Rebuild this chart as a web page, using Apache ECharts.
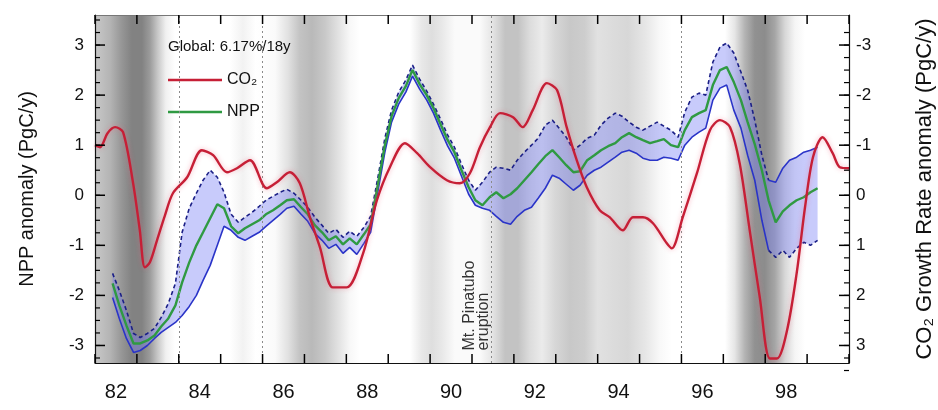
<!DOCTYPE html>
<html>
<head>
<meta charset="utf-8">
<script src="https://cdn.jsdelivr.net/npm/echarts@6/dist/echarts.min.js"></script>
<style>
  html, body { margin: 0; padding: 0; background: #fff; }
  #chart { width: 938px; height: 410px; }
</style>
</head>
<body>
<div id="chart"></div>
<script>
// ---- Data -------------------------------------------------------------

// Years that carry an axis label (label is drawn at mid-year)
const labelYears = [1982, 1984, 1986, 1988, 1990, 1992, 1994, 1996, 1998];

// CO2 growth-rate anomaly (PgC/y), plotted on the inverted right axis
const co2Years = [
  1982.00, 1982.12, 1982.30, 1982.48, 1982.67, 1982.91, 1983.07, 1983.19, 1983.31, 1983.48,
  1983.67, 1983.86, 1984.20, 1984.55, 1984.82, 1985.15, 1985.39, 1985.70, 1986.10, 1986.34,
  1986.65, 1986.89, 1987.13, 1987.37, 1987.68, 1988.01, 1988.40, 1988.73, 1989.04, 1989.40,
  1989.69, 1990.00, 1990.40, 1990.71, 1990.95, 1991.19, 1991.43, 1991.67, 1991.98, 1992.21,
  1992.45, 1992.79, 1993.03, 1993.26, 1993.50, 1993.74, 1994.05, 1994.29, 1994.60, 1994.84,
  1995.08, 1995.32, 1995.65, 1995.77, 1996.03, 1996.37, 1996.68, 1996.92, 1997.16, 1997.39,
  1997.63, 1997.87, 1998.11, 1998.28, 1998.52, 1998.75, 1998.95, 1999.14, 1999.37, 1999.61,
  1999.78, 2000.00
];
const co2Anomaly = [
  -1.00, -0.96, -1.24, -1.36, -1.26, -0.24, 0.70, 1.44, 1.34, 0.90,
  0.40, -0.04, -0.36, -0.90, -0.80, -0.46, -0.54, -0.70, -0.14, -0.26,
  -0.46, -0.24, 0.44, 1.04, 1.84, 1.84, 1.16, 0.10, -0.56, -1.04,
  -0.84, -0.56, -0.30, -0.24, -0.44, -0.96, -1.36, -1.64, -1.56, -1.36,
  -1.70, -2.24, -2.10, -1.36, -0.70, -0.16, 0.30, 0.44, 0.70, 0.44,
  0.44, 0.56, 0.96, 1.06, 0.44, -0.44, -1.30, -1.50, -1.36, -0.64,
  0.70, 2.04, 3.26, 3.26, 2.70, 1.56, 0.24, -0.76, -1.16, -0.84,
  -0.56, -0.54
];

// NPP anomaly (PgC/y), bimonthly
const nppYears = [
  1982.42, 1982.58, 1982.75, 1982.92,
  1983.08, 1983.25, 1983.42, 1983.58, 1983.75, 1983.92,
  1984.08, 1984.25, 1984.42, 1984.58, 1984.75, 1984.92,
  1985.08, 1985.25, 1985.42, 1985.58, 1985.75, 1985.92,
  1986.08, 1986.25, 1986.42, 1986.58, 1986.75, 1986.92,
  1987.08, 1987.25, 1987.42, 1987.58, 1987.75, 1987.92,
  1988.08, 1988.25, 1988.42, 1988.58, 1988.75, 1988.92,
  1989.08, 1989.25, 1989.42, 1989.58, 1989.75, 1989.92,
  1990.08, 1990.25, 1990.42, 1990.58, 1990.75, 1990.92,
  1991.08, 1991.25, 1991.42, 1991.58, 1991.75, 1991.92,
  1992.08, 1992.25, 1992.42, 1992.58, 1992.75, 1992.92,
  1993.08, 1993.25, 1993.42, 1993.58, 1993.75, 1993.92,
  1994.08, 1994.25, 1994.42, 1994.58, 1994.75, 1994.92,
  1995.08, 1995.25, 1995.42, 1995.58, 1995.75, 1995.92,
  1996.08, 1996.25, 1996.42, 1996.58, 1996.75, 1996.92,
  1997.08, 1997.25, 1997.42, 1997.58, 1997.75, 1997.92,
  1998.08, 1998.25, 1998.42, 1998.58, 1998.75, 1998.92,
  1999.08, 1999.25
];
const nppMean = [
  -1.76, -2.20, -2.60, -2.96,
  -2.96, -2.90, -2.80, -2.62, -2.46, -2.20,
  -1.74, -1.34, -1.00, -0.74, -0.46, -0.18,
  -0.26, -0.62, -0.76, -0.66, -0.58, -0.50,
  -0.38, -0.30, -0.20, -0.10, -0.08, -0.24,
  -0.38, -0.60, -0.74, -0.90, -0.82, -0.98,
  -0.86, -0.98, -0.78, -0.58, 0.20, 1.00,
  1.58, 1.94, 2.18, 2.50, 2.22, 2.00,
  1.74, 1.42, 1.10, 0.86, 0.50, 0.16,
  -0.10, -0.20, -0.04, 0.06, -0.06, 0.02,
  0.14, 0.30, 0.46, 0.62, 0.78, 0.90,
  0.76, 0.60, 0.46, 0.48, 0.70, 0.80,
  0.90, 0.98, 1.04, 1.16, 1.24, 1.16,
  1.10, 1.04, 1.08, 1.12, 1.00, 0.96,
  1.30, 1.56, 1.64, 1.70, 2.20, 2.50,
  2.56, 2.26, 1.90, 1.46, 1.02, 0.50,
  -0.10, -0.54, -0.32, -0.20, -0.10, -0.04,
  0.06, 0.14
];
const nppUpper = [
  -1.56, -1.90, -2.30, -2.76,
  -2.84, -2.76, -2.66, -2.44, -2.16, -1.76,
  -0.74, -0.26, 0.04, 0.30, 0.50, 0.36,
  0.06, -0.38, -0.54, -0.44, -0.34, -0.22,
  -0.10, -0.02, 0.06, 0.12, 0.04, -0.10,
  -0.24, -0.44, -0.60, -0.76, -0.68, -0.84,
  -0.72, -0.82, -0.64, -0.42, 0.34, 1.14,
  1.70, 2.06, 2.30, 2.60, 2.32, 2.08,
  1.82, 1.52, 1.20, 0.96, 0.62, 0.30,
  0.10, 0.26, 0.46, 0.56, 0.54, 0.50,
  0.70, 0.86, 1.00, 1.14, 1.40, 1.50,
  1.34, 1.16, 0.90, 1.00, 1.14, 1.20,
  1.40, 1.54, 1.64, 1.58, 1.46, 1.36,
  1.30, 1.38, 1.46, 1.38, 1.30, 1.16,
  1.66, 1.96, 2.04, 2.00, 2.66, 2.96,
  3.04, 2.84, 2.46, 2.10, 1.50, 0.80,
  0.30, 0.26, 0.54, 0.70, 0.76, 0.86,
  0.90, 0.96
];
const nppLower = [
  -2.04, -2.46, -2.86, -3.14,
  -3.10, -3.00, -2.86, -2.74, -2.64, -2.54,
  -2.40, -2.22, -2.00, -1.70, -1.40, -1.00,
  -0.62, -0.70, -0.84, -0.90, -0.82, -0.74,
  -0.62, -0.50, -0.38, -0.26, -0.22, -0.38,
  -0.52, -0.76, -0.90, -1.06, -0.98, -1.16,
  -1.04, -1.18, -0.96, -0.74, 0.06, 0.86,
  1.46, 1.82, 2.06, 2.38, 2.12, 1.90,
  1.64, 1.30, 0.98, 0.74, 0.38, 0.02,
  -0.20, -0.26, -0.30, -0.42, -0.54, -0.58,
  -0.42, -0.30, -0.24, -0.06, 0.14, 0.40,
  0.34, 0.22, 0.10, 0.20, 0.40, 0.50,
  0.56, 0.66, 0.76, 0.86, 0.90, 0.84,
  0.74, 0.70, 0.70, 0.76, 0.74, 0.70,
  1.00, 1.16, 1.26, 1.34, 1.90, 2.14,
  2.20, 1.70, 1.34, 0.80, 0.30, -0.50,
  -1.10, -1.24, -1.10, -1.24, -1.06, -0.94,
  -1.00, -0.90
];
// From this year on, the upper bound is drawn solid and the lower one dashed
const boundStyleSwitch = 1998.0;

// Background shading profile: grey level (0-255) along the time axis
const shadeYears = [
  1982.00, 1982.36, 1982.64, 1982.88, 1983.12, 1983.31, 1983.50, 1983.69, 1983.91,
  1985.22, 1985.53, 1985.84, 1986.30, 1986.61, 1986.89, 1987.18, 1987.49, 1987.80,
  1988.09, 1988.32, 1989.52, 1989.80, 1990.04, 1990.28, 1990.59, 1991.19, 1991.47,
  1991.79, 1992.10, 1992.38, 1992.67, 1992.98, 1993.34, 1993.69, 1994.00, 1994.34,
  1994.72, 1995.13, 1995.48, 1995.77, 1997.04, 1997.27, 1997.51, 1997.75, 1997.99,
  1998.23, 1998.47, 1998.71, 1998.95, 2000.00
];
const shadeGray = [
  200, 180, 150, 130, 130, 155, 200, 240, 255,
  255, 242, 255, 250, 225, 195, 185, 200, 225,
  248, 255, 255, 232, 222, 232, 250, 250, 230,
  195, 195, 220, 235, 215, 200, 205, 225, 220,
  215, 230, 248, 255, 255, 230, 180, 145, 140,
  165, 215, 245, 255, 255
];

// Dotted event markers
const eventYears = [1984.0, 1986.0, 1991.45, 1996.0];
// Mt. Pinatubo eruption note, anchored near the foot of its marker
const pinatuboNote = { year: 1991.45, value: -3.0, text: 'Mt. Pinatubo\neruption' };

// Axis tick values
const yMajor = [-3, -2, -1, 0, 1, 2, 3];

// ---- Chart ------------------------------------------------------------

const FONT = '"Liberation Sans", Arial, Helvetica, sans-serif';
const X_MIN = 1982, X_MAX = 2000;
const L_MIN = -3.35, L_MAX = 3.6;     // NPP axis
const R_MIN = -3.6, R_MAX = 3.35;     // CO2 axis (inverted)

const yearTicks = [];
for (let y = X_MIN; y <= X_MAX; y++) yearTicks.push(y);
const yMinor = [];
for (let v = -3.25; v <= 3.5; v += 0.25) yMinor.push(Math.round(v * 100) / 100);

const pairs = (xs, ys) => xs.map((x, i) => [x, ys[i]]);
const part = (xs, ys, test) => xs.map((x, i) => [x, test(x) ? ys[i] : null]);

const shadeStops = shadeYears.map((y, i) => ({
  offset: (y - X_MIN) / (X_MAX - X_MIN),
  color: 'rgb(' + shadeGray[i] + ',' + shadeGray[i] + ',' + shadeGray[i] + ')'
}));

// Inward tick marks along the frame, placed through the axis scales.
// side 'left' draws the x ticks and the left y ticks, 'right' the right y ticks.
function tickRenderer(side, yMin, yMax) {
  return (params, api) => {
    const kids = [];
    const seg = (x1, y1, x2, y2, w) => kids.push({
      type: 'line', shape: { x1, y1, x2, y2 },
      style: { stroke: '#000', lineWidth: w }
    });
    if (side === 'left') {
      yearTicks.forEach(yr => {
        const b = api.coord([yr, yMin]), t = api.coord([yr, yMax]);
        seg(b[0], b[1], b[0], b[1] - 9, 1.5);
        seg(t[0], t[1], t[0], t[1] + 9, 1.5);
      });
      yMinor.forEach(v => { const p = api.coord([X_MIN, v]); seg(p[0], p[1], p[0] + 5, p[1], 1.2); });
      yMajor.forEach(v => { const p = api.coord([X_MIN, v]); seg(p[0], p[1], p[0] + 10, p[1], 1.5); });
    } else {
      yMinor.forEach(v => { const p = api.coord([X_MAX, v]); seg(p[0], p[1], p[0] - 5, p[1], 1.2); });
      yMajor.forEach(v => { const p = api.coord([X_MAX, v]); seg(p[0], p[1], p[0] - 10, p[1], 1.5); });
    }
    return { type: 'group', children: kids };
  };
}

const axisLineStyle = { color: '#111', width: 1.2 };

const option = {
  animation: false,
  backgroundColor: '#fff',
  textStyle: { fontFamily: FONT },
  grid: { left: 95, right: 89, top: 15, bottom: 47, outerBoundsMode: 'none', containLabel: false },
  title: {
    text: 'Global: 6.17%/18y',
    left: 168, top: 39, padding: 0,
    textStyle: { fontFamily: FONT, fontSize: 15, fontWeight: 'normal', color: '#111' }
  },
  legend: {
    data: ['CO\u2082', 'NPP'],
    orient: 'vertical',
    left: 168, top: 72, padding: 0,
    icon: 'rect',
    itemWidth: 54, itemHeight: 2.5, itemGap: 16,
    textStyle: { fontFamily: FONT, fontSize: 16, color: '#111' }
  },
  xAxis: [
    {
      type: 'value', position: 'bottom', min: X_MIN, max: X_MAX, z: 10,
      splitLine: { show: false },
      axisLine: { show: true, onZero: false, lineStyle: axisLineStyle },
      axisTick: { show: false },
      axisLabel: {
        customValues: labelYears.map(y => y + 0.5),
        formatter: v => String(Math.floor(v) % 100),
        fontFamily: FONT, fontSize: 20, color: '#111', margin: 19
      }
    },
    {
      type: 'value', position: 'top', min: X_MIN, max: X_MAX, z: 10,
      splitLine: { show: false },
      axisLine: { show: true, onZero: false, lineStyle: { color: '#777', width: 1.2 } },
      axisTick: { show: false },
      axisLabel: { show: false }
    }
  ],
  yAxis: [
    {
      type: 'value', position: 'left', min: L_MIN, max: L_MAX, z: 10,
      name: 'NPP anomaly (PgC/y)', nameLocation: 'middle', nameGap: 58, nameRotate: 90,
      nameTextStyle: { fontFamily: FONT, fontSize: 20, color: '#111' },
      splitLine: { show: false },
      axisLine: { show: true, onZero: false, lineStyle: axisLineStyle },
      axisTick: { show: false },
      axisLabel: { customValues: yMajor, fontFamily: FONT, fontSize: 17, color: '#111', margin: 11 }
    },
    {
      type: 'value', position: 'right', min: R_MIN, max: R_MAX, inverse: true, z: 10,
      name: 'CO\u2082 Growth Rate anomaly (PgC/y)', nameLocation: 'middle', nameGap: 65, nameRotate: 90,
      nameTextStyle: { fontFamily: FONT, fontSize: 22, color: '#111' },
      splitLine: { show: false },
      axisLine: { show: true, onZero: false, lineStyle: axisLineStyle },
      axisTick: { show: false },
      axisLabel: { customValues: yMajor, fontFamily: FONT, fontSize: 17, color: '#111', margin: 7 }
    }
  ],
  series: [
    {
      // grey background bands and dotted event markers
      name: 'shade', type: 'line', data: [], z: 1, silent: true,
      markArea: {
        silent: true,
        itemStyle: { color: new echarts.graphic.LinearGradient(0, 0, 1, 0, shadeStops) },
        data: [[{ xAxis: X_MIN }, { xAxis: X_MAX }]]
      },
      markLine: {
        silent: true, symbol: ['none', 'none'],
        lineStyle: { color: '#8a8a8a', type: [2, 3], width: 1 },
        label: { show: false },
        data: eventYears.map(y => ({ xAxis: y }))
      }
    },
    {
      // rotated eruption note
      name: 'note', type: 'scatter', z: 6, silent: true, symbolSize: 0,
      data: [[pinatuboNote.year, pinatuboNote.value]],
      label: {
        show: true, position: 'inside', formatter: pinatuboNote.text,
        rotate: 90, align: 'left', verticalAlign: 'bottom', offset: [-5, 0],
        fontFamily: FONT, fontSize: 16, lineHeight: 14, color: '#000'
      }
    },
    {
      // NPP uncertainty band
      name: 'band', type: 'custom', z: 2, silent: true, clip: true,
      data: nppYears.map((y, i) => [y, nppLower[i], nppUpper[i]]),
      renderItem: (params, api) => {
        if (params.dataIndex !== 0) return null;
        const pts = [];
        for (let i = 0; i < nppYears.length; i++) pts.push(api.coord([nppYears[i], nppUpper[i]]));
        for (let i = nppYears.length - 1; i >= 0; i--) pts.push(api.coord([nppYears[i], nppLower[i]]));
        return { type: 'polygon', shape: { points: pts }, style: { fill: 'rgba(118,124,246,0.40)' } };
      }
    },
    {
      name: 'upper-a', type: 'line', z: 3, symbol: 'none', silent: true,
      data: part(nppYears, nppUpper, x => x <= boundStyleSwitch + 0.1),
      lineStyle: { color: '#1b1f86', width: 1.6, type: [4, 3] }
    },
    {
      name: 'upper-b', type: 'line', z: 3, symbol: 'none', silent: true,
      data: part(nppYears, nppUpper, x => x >= boundStyleSwitch),
      lineStyle: { color: '#2a34c8', width: 1.6 }
    },
    {
      name: 'lower-a', type: 'line', z: 3, symbol: 'none', silent: true,
      data: part(nppYears, nppLower, x => x <= boundStyleSwitch + 0.1),
      lineStyle: { color: '#2a34c8', width: 1.6 }
    },
    {
      name: 'lower-b', type: 'line', z: 3, symbol: 'none', silent: true,
      data: part(nppYears, nppLower, x => x >= boundStyleSwitch),
      lineStyle: { color: '#1b1f86', width: 1.6, type: [4, 3] }
    },
    {
      name: 'NPP', type: 'line', z: 4, symbol: 'none',
      data: pairs(nppYears, nppMean),
      color: '#2f9a42',
      lineStyle: { color: '#2f9a42', width: 2.4 }
    },
    {
      name: 'CO\u2082', type: 'line', z: 5, symbol: 'none', yAxisIndex: 1, smooth: 0.3,
      data: pairs(co2Years, co2Anomaly),
      color: '#c61f36',
      lineStyle: { color: '#c61f36', width: 2.4, shadowColor: 'rgba(240,90,120,0.45)', shadowBlur: 5 }
    },
    {
      name: 'ticks-l', type: 'custom', z: 20, zlevel: 1, silent: true, clip: false, yAxisIndex: 0,
      data: [[X_MIN, 0]], renderItem: tickRenderer('left', L_MIN, L_MAX)
    },
    {
      name: 'ticks-r', type: 'custom', z: 20, zlevel: 1, silent: true, clip: false, yAxisIndex: 1,
      data: [[X_MAX, 0]], renderItem: tickRenderer('right', R_MIN, R_MAX)
    }
  ]
};

const chart = echarts.init(document.getElementById('chart'));
chart.setOption(option);
</script>
</body>
</html>
